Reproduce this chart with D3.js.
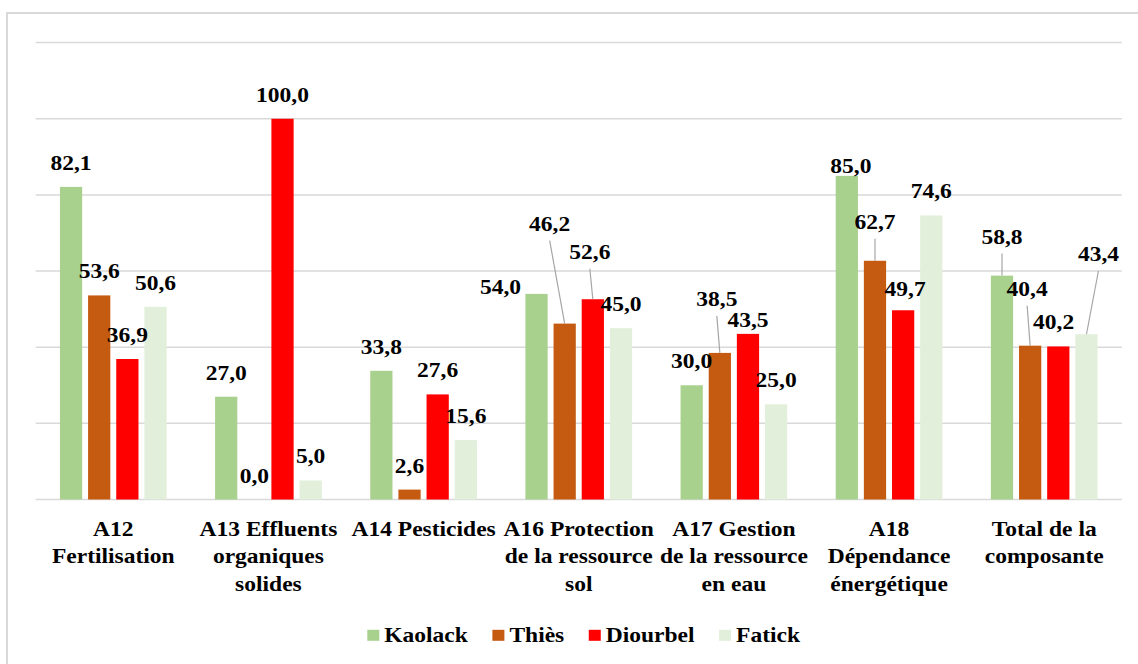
<!DOCTYPE html>
<html>
<head>
<meta charset="utf-8">
<script src="https://cdn.jsdelivr.net/npm/d3@7"></script>
<style>
  html, body { margin: 0; padding: 0; background: #fff; }
  svg { display: block; }
</style>
</head>
<body>
<svg id="chart" width="1138" height="664"></svg>
<script>
// ---- Data ----
const categories = [
  "A12\nFertilisation",
  "A13 Effluents\norganiques\nsolides",
  "A14 Pesticides",
  "A16 Protection\nde la ressource\nsol",
  "A17 Gestion\nde la ressource\nen eau",
  "A18\nDépendance\nénergétique",
  "Total de la\ncomposante"
];
const seriesNames = ["Kaolack", "Thiès", "Diourbel", "Fatick"];
const kaolack  = [82.1, 27.0, 33.8, 54.0, 30.0, 85.0, 58.8];
const thies    = [53.6, 0.0, 2.6, 46.2, 38.5, 62.7, 40.4];
const diourbel = [36.9, 100.0, 27.6, 52.6, 43.5, 49.7, 40.2];
const fatick   = [50.6, 5.0, 15.6, 45.0, 25.0, 74.6, 43.4];
const yTicks   = [0, 20, 40, 60, 80, 100, 120];

// ---- Styles / layout ----
const colors = ["#a9d18e", "#c55a11", "#ff0000", "#e2efda"];
// label displacement (px) relative to default position above bar; third item = leader line
const labelShift = [
  [[0,0],[0,0],[0,0],[-36,17],[0,0],[4,14],[0,-15,1]],
  [[0,0],[0,0],[0,0],[-15,-76,1],[-3,-30,1],[0,-15,1],[-3,-33,1]],
  [[0,0],[0,0],[0,0],[-3,-23.5,1],[0,10],[2,2.5],[-4.7,0]],
  [[0,0],[0,0],[0,0],[0,0],[0,0],[0,0],[12,-56.5,1]]
];
const values = [kaolack, thies, diourbel, fatick];
const SX = 1.12, FS = 21;
const FONT = "Liberation Serif";

const svg = d3.select("#chart");
const plot = {left: 35.7, right: 1121.8, top: 42.6, bottom: 499.5};

// outer border
svg.append("rect").attr("x", 7).attr("y", 13).attr("width", 1160).attr("height", 700)
  .attr("fill", "none").attr("stroke", "#d9d9d9").attr("stroke-width", 2);

const x0 = d3.scaleBand().domain(d3.range(categories.length)).range([plot.left, plot.right]).padding(0);
const groupW = 106.7;
const x1 = d3.scaleBand().domain(d3.range(seriesNames.length)).range([0, groupW]).paddingInner(0.21).paddingOuter(0);
const gOff = (x0.bandwidth() - groupW) / 2;
const y = d3.scaleLinear().domain([0, 120]).range([plot.bottom, plot.top]);

// gridlines
svg.append("g").selectAll("line").data(yTicks).join("line")
  .attr("x1", plot.left).attr("x2", plot.right)
  .attr("y1", d => y(d)).attr("y2", d => y(d))
  .attr("stroke", "#d9d9d9").attr("stroke-width", 1.5);

function stext(parent, x, yy, str, anchor) {
  return parent.append("text")
    .attr("transform", `translate(${x},${yy}) scale(${SX},1)`)
    .attr("text-anchor", anchor || "middle")
    .attr("font-family", FONT)
    .attr("font-weight", "bold")
    .attr("font-size", FS)
    .attr("fill", "#000")
    .text(str);
}

// bars
const barsG = svg.append("g");
const leaderG = svg.append("g");
const labelsG = svg.append("g");
values.forEach((vals, s) => {
  vals.forEach((v, i) => {
    const bx = x0(i) + gOff + x1(s);
    barsG.append("rect")
      .attr("x", bx).attr("y", y(v))
      .attr("width", x1.bandwidth()).attr("height", y(0) - y(v))
      .attr("fill", colors[s]);
    const cx = bx + x1.bandwidth() / 2;
    const sh = labelShift[s][i];
    const lx = cx + sh[0], ly = y(v) - 17 + sh[1];
    if (sh[2]) {
      leaderG.append("line")
        .attr("x1", lx).attr("y1", ly + 10)
        .attr("x2", cx).attr("y2", y(v))
        .attr("stroke", "#a6a6a6").attr("stroke-width", 1.2);
    }
    stext(labelsG, lx, ly, d3.format(".1f")(v).replace(".", ","));
  });
});

// category labels
const catG = svg.append("g");
categories.forEach((c, i) => {
  const cx = x0(i) + x0.bandwidth() / 2;
  c.split("\n").forEach((line, k) => {
    stext(catG, cx, 535.5 + k * 27.5, line);
  });
});

// legend
const legG = svg.append("g");
let lxPos = 367.3;
seriesNames.forEach((n, s) => {
  legG.append("rect").attr("x", lxPos).attr("y", 629.8).attr("width", 12).attr("height", 11)
    .attr("fill", colors[s]);
  const t = stext(legG, lxPos + 17, 641.7, n, "start");
  const w = t.node().getComputedTextLength() * SX;
  lxPos += 17 + w + 24.5;
});
</script>
</body>
</html>
